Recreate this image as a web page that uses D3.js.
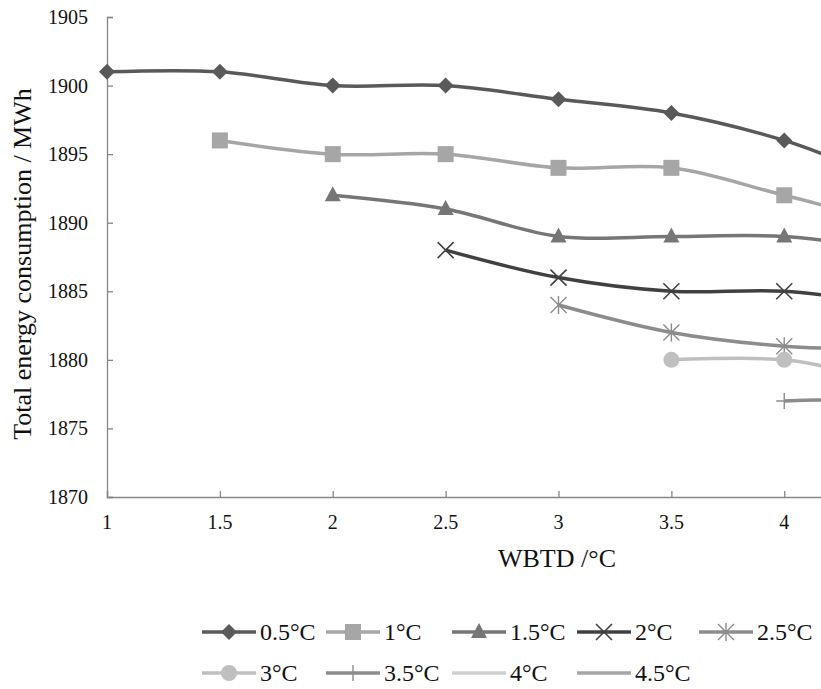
<!DOCTYPE html>
<html>
<head>
<meta charset="utf-8">
<script src="https://cdnjs.cloudflare.com/ajax/libs/d3/7.8.5/d3.min.js"></script>
<style>
  body { margin: 0; background: #fff; overflow: hidden; }
  svg { display: block; font-family: "Liberation Serif", "Times New Roman", serif; }
</style>
</head>
<body>
<div id="chart"></div>
<script>
// WBTD values on the x axis
var wbtd = [1, 1.5, 2, 2.5, 3, 3.5, 4, 4.5, 5];
var seriesNames = ["0.5°C", "1°C", "1.5°C", "2°C", "2.5°C", "3°C", "3.5°C", "4°C", "4.5°C"];
// first WBTD index of each series (approach + 0.5)
var seriesStart = [0, 1, 2, 3, 4, 5, 6, 7, 8];
// energy consumption, MWh
var s05 = [1901, 1901, 1900, 1900, 1899, 1898, 1896, 1893, 1891];
var s10 = [1896, 1895, 1895, 1894, 1894, 1892, 1890, 1889];
var s15 = [1892, 1891, 1889, 1889, 1889, 1888, 1887];
var s20 = [1888, 1886, 1885, 1885, 1884, 1883];
var s25 = [1884, 1882, 1881, 1880.7, 1880];
var s30 = [1880, 1880, 1878.5, 1878];
var s35 = [1877, 1877, 1876];
var s40 = [1874, 1873];
var s45 = [1871];
var seriesValues = [s05, s10, s15, s20, s25, s30, s35, s40, s45];

var lineColors = ["#595959", "#a6a6a6", "#767676", "#404040", "#8c8c8c", "#bfbfbf", "#8c8c8c", "#d0d0d0", "#a6a6a6"];
var markers = ["diamond", "square", "triangle", "x", "asterisk", "circle", "plus", "none", "none"];

var yTicks = [1870, 1875, 1880, 1885, 1890, 1895, 1900, 1905];
var xTicks = [1, 1.5, 2, 2.5, 3, 3.5, 4, 4.5, 5];

var W = 821, H = 689;
var svg = d3.select("#chart").append("svg")
    .attr("width", W).attr("height", H);

var x = d3.scaleLinear().domain([1, 5]).range([107, 1010]);
var y = d3.scaleLinear().domain([1870, 1905]).range([497, 17]);

var axisColor = "#868686";

// y axis, ticks pointing into the plot
var yAxis = svg.append("g")
    .attr("transform", "translate(" + x(1) + ",0)")
    .call(d3.axisRight(y).tickValues(yTicks).tickSize(6).tickFormat(""));
yAxis.selectAll("path, line").attr("stroke", axisColor).attr("stroke-width", 1.3);

svg.selectAll(".ylab").data(yTicks).enter().append("text")
    .attr("x", 88).attr("y", function(d) { return y(d); })
    .attr("dy", "0.35em")
    .attr("text-anchor", "end")
    .style("font-size", "20px").attr("fill", "#111")
    .text(function(d) { return d; });

// x axis, ticks pointing up
var xAxis = svg.append("g")
    .attr("transform", "translate(0," + y(1870) + ")")
    .call(d3.axisTop(x).tickValues(xTicks).tickSize(6).tickFormat(""));
xAxis.selectAll("path, line").attr("stroke", axisColor).attr("stroke-width", 1.3);

// only the labels that fall inside the visible page
svg.selectAll(".xlab").data(xTicks.filter(function(d) { return x(d) < W - 10; }))
  .enter().append("text")
    .attr("x", function(d) { return x(d); }).attr("y", 522)
    .attr("dy", "0.35em")
    .attr("text-anchor", "middle")
    .style("font-size", "20px").attr("fill", "#111")
    .text(function(d) { return d; });

// axis titles
svg.append("text")
    .attr("x", 557).attr("y", 558).attr("dy", "0.35em")
    .attr("text-anchor", "middle")
    .style("font-size", "26px").attr("fill", "#111")
    .text("WBTD /°C");

svg.append("text")
    .attr("transform", "translate(22,264) rotate(-90)")
    .attr("dy", "0.35em")
    .attr("text-anchor", "middle")
    .style("font-size", "26px").attr("fill", "#111")
    .text("Total energy consumption / MWh");

// marker drawing
function drawMarker(g, type, color, cx, cy) {
  if (type == "diamond") {
    g.append("path").attr("d", "M0,-8L8,0L0,8L-8,0Z")
      .attr("transform", "translate(" + cx + "," + cy + ")").attr("fill", color);
  } else if (type == "square") {
    g.append("rect").attr("x", cx - 8).attr("y", cy - 8).attr("width", 16).attr("height", 16).attr("fill", color);
  } else if (type == "triangle") {
    g.append("path").attr("d", "M0,-9L8,6L-8,6Z")
      .attr("transform", "translate(" + cx + "," + cy + ")").attr("fill", color);
  } else if (type == "x") {
    g.append("path").attr("d", "M-8,-8L8,8M-8,8L8,-8")
      .attr("transform", "translate(" + cx + "," + cy + ")")
      .attr("stroke", color).attr("stroke-width", 1.6).attr("fill", "none");
  } else if (type == "asterisk") {
    g.append("path").attr("d", "M-8,-8L8,8M-8,8L8,-8M0,-9L0,9")
      .attr("transform", "translate(" + cx + "," + cy + ")")
      .attr("stroke", color).attr("stroke-width", 1.4).attr("fill", "none");
  } else if (type == "circle") {
    g.append("circle").attr("cx", cx).attr("cy", cy).attr("r", 8).attr("fill", color);
  } else if (type == "plus") {
    g.append("path").attr("d", "M-8,0L8,0M0,-8L0,8")
      .attr("transform", "translate(" + cx + "," + cy + ")")
      .attr("stroke", color).attr("stroke-width", 1.4).attr("fill", "none");
  }
}

var line = d3.line()
    .x(function(d) { return x(d[0]); })
    .y(function(d) { return y(d[1]); })
    .curve(d3.curveCatmullRom.alpha(0.5));

var plot = svg.append("g");
seriesValues.forEach(function(vals, i) {
  var pts = vals.map(function(v, j) { return [wbtd[seriesStart[i] + j], v]; });
  plot.append("path")
    .datum(pts)
    .attr("d", line)
    .attr("fill", "none")
    .attr("stroke", lineColors[i])
    .attr("stroke-width", 3.5);
  var mg = plot.append("g");
  pts.forEach(function(p) {
    drawMarker(mg, markers[i], lineColors[i], x(p[0]), y(p[1]));
  });
});

// legend
var legX = [202, 326, 452, 577, 699];
var legY = [632, 673];
seriesNames.forEach(function(name, i) {
  var lx = legX[i % 5], ly = legY[Math.floor(i / 5)];
  var g = svg.append("g");
  g.append("line")
    .attr("x1", lx).attr("x2", lx + 54).attr("y1", ly).attr("y2", ly)
    .attr("stroke", lineColors[i]).attr("stroke-width", 3.5);
  drawMarker(g, markers[i], lineColors[i], lx + 27, ly);
  g.append("text")
    .attr("x", lx + 58).attr("y", ly).attr("dy", "0.35em")
    .style("font-size", "24px").attr("fill", "#111")
    .text(name);
});
</script>
</body>
</html>
